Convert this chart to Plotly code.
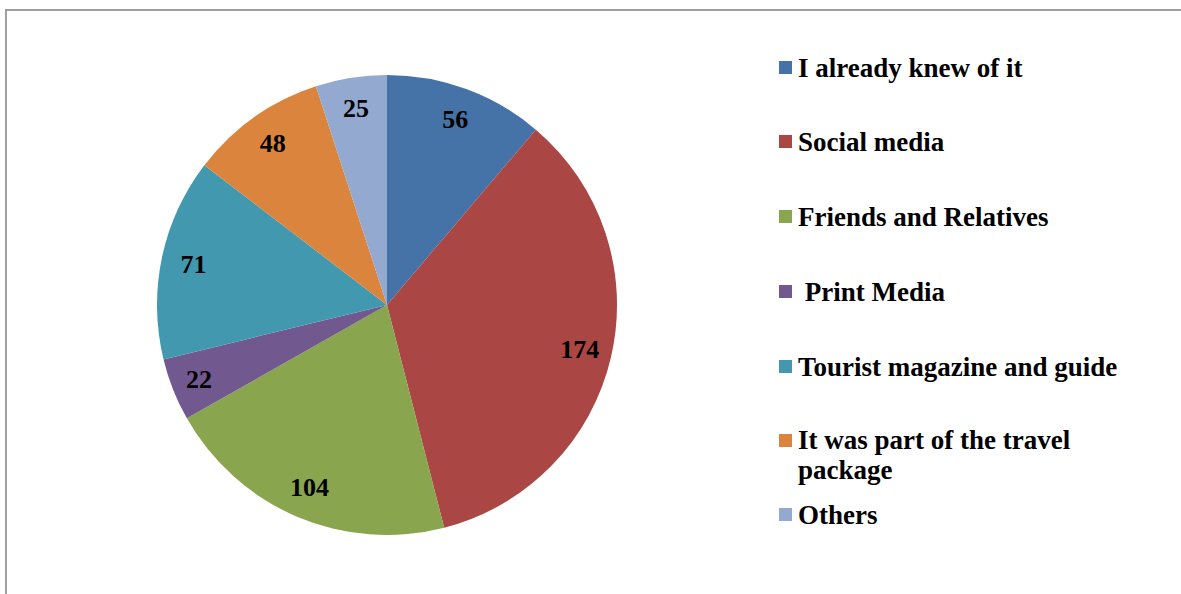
import plotly.graph_objects as go

# -------------------------------------------------------------------
# Dados
# -------------------------------------------------------------------
labels = [
    "I already knew of it",
    "Social media",
    "Friends and Relatives",
    " Print Media",
    "Tourist magazine and guide",
    "It was part of the travel<br>package",
    "Others",
]
values = [56, 174, 104, 22, 71, 48, 25]
colors = ["#4572A7", "#AA4643", "#89A54E", "#71588F", "#4198AF", "#DB843D", "#93A9CF"]

W, H = 1181, 594
FONT = "Liberation Serif, Times New Roman, serif"
FONT_SIZE = 27


def px_x(x):
    return x / W


def px_y(y):
    return 1 - y / H


# domínio da pizza (centro ~ (387, 305), raio ~ 230)
domain = dict(x=[px_x(157), px_x(617)], y=[px_y(535), px_y(75)])

fig = go.Figure()

fig.add_trace(
    go.Pie(
        labels=labels,
        values=values,
        sort=False,
        direction="clockwise",
        rotation=0,
        marker=dict(colors=colors, line=dict(width=0)),
        textinfo="none",
        hoverinfo="label+value",
        showlegend=False,
        domain=domain,
    )
)

# anel transparente só para posicionar os rótulos perto da borda
fig.add_trace(
    go.Pie(
        labels=labels,
        values=values,
        sort=False,
        direction="clockwise",
        rotation=0,
        hole=0.72,
        marker=dict(colors=["rgba(0,0,0,0)"] * len(values), line=dict(width=0)),
        texttemplate="<b>%{value}</b>",
        textposition="inside",
        insidetextorientation="horizontal",
        textfont=dict(family=FONT, size=26, color="black"),
        hoverinfo="skip",
        showlegend=False,
        domain=domain,
    )
)

# legenda desenhada à mão (espaçamento do original)
legend_y = [67, 141, 216, 291, 366, 440, 514]
line_gap = 30

shapes = [
    dict(
        type="rect", xref="paper", yref="paper",
        x0=px_x(6), x1=1.05, y0=-0.05, y1=px_y(10),
        line=dict(color="#a0a0a0", width=2), fillcolor="rgba(0,0,0,0)",
    )
]
annotations = []
for label, color, y in zip(labels, colors, legend_y):
    shapes.append(
        dict(
            type="rect", xref="paper", yref="paper",
            x0=px_x(779), x1=px_x(792), y0=px_y(y + 7), y1=px_y(y - 6),
            line=dict(width=0), fillcolor=color,
        )
    )
    lines = label.split("<br>")
    first = y + 1 if len(lines) == 1 else y - 0.5
    for i, line in enumerate(lines):
        annotations.append(
            dict(
                text=f"<b>{line}</b>",
                xref="paper", yref="paper",
                x=px_x(796), y=px_y(first + i * line_gap),
                xanchor="left", yanchor="middle",
                align="left",
                showarrow=False,
                font=dict(family=FONT, size=FONT_SIZE, color="black"),
            )
        )

fig.update_layout(
    width=W,
    height=H,
    margin=dict(l=0, r=0, t=0, b=0),
    paper_bgcolor="white",
    plot_bgcolor="white",
    shapes=shapes,
    annotations=annotations,
)

fig.write_html(
    "out.html",
    config=dict(displayModeBar=False),
    post_script="document.body.style.margin='0';",
)
